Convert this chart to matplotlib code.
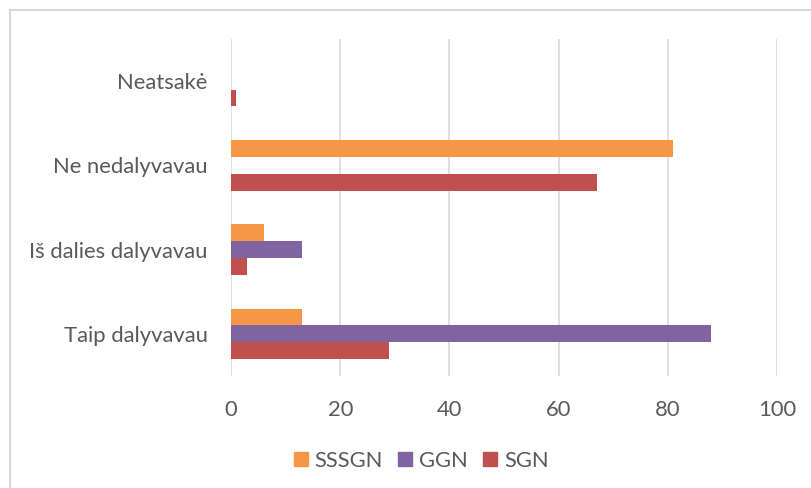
import matplotlib.pyplot as plt
from matplotlib.lines import Line2D
import numpy as np

categories = ["Taip dalyvavau", "Iš dalies dalyvavau", "Ne nedalyvavau", "Neatsakė"]
series = ["SSSGN", "GGN", "SGN"]
sssgn = [13, 6, 81, 0]
ggn = [88, 13, 0, 0]
sgn = [29, 3, 67, 1]
xticks = [0, 20, 40, 60, 80, 100]

colors = ["#F79646", "#8064A2", "#C0504D"]
txt = "#595959"
plt.rcParams['font.family'] = ['Lato', 'DejaVu Sans']

fig = plt.figure(figsize=(8.11, 4.88), dpi=100)
ax = fig.add_axes([231/811, 1-376/488, (777-231)/811, (376-39)/488])

y = np.arange(len(categories))
h = 0.2
ax.barh(y + h, sssgn, height=h, color=colors[0], label=series[0], zorder=3)
ax.barh(y, ggn, height=h, color=colors[1], label=series[1], zorder=3)
ax.barh(y - h, sgn, height=h, color=colors[2], label=series[2], zorder=3)

ax.set_xlim(0, 100)
ax.set_ylim(-0.5, 3.5)
ax.set_xticks(xticks)
ax.set_yticks(y)
ax.set_yticklabels(categories)
ax.tick_params(length=0, labelsize=15.8, colors=txt)
ax.tick_params(axis='x', pad=17)
ax.tick_params(axis='y', pad=17)
ax.grid(axis='x', color="#D9D9D9", linewidth=1.2, zorder=0)
for s in ax.spines.values():
    s.set_visible(False)

handles = [Line2D([], [], marker='s', linestyle='', markersize=10, color=c) for c in colors]
fig.legend(handles, series, loc='center', bbox_to_anchor=(421/811, 1-461/488), ncol=3,
           frameon=False, fontsize=15.8, labelcolor=txt, handlelength=0.65,
           handletextpad=0.3, columnspacing=0.7)

# outer chart border (only top/left visible in the crop)
fig.add_artist(Line2D([10/811, 10/811], [0, 1-10/488], transform=fig.transFigure, color="#D9D9D9", lw=1.5))
fig.add_artist(Line2D([10/811, 1], [1-10/488, 1-10/488], transform=fig.transFigure, color="#D9D9D9", lw=1.5))

fig.savefig("out.png", dpi=100)
